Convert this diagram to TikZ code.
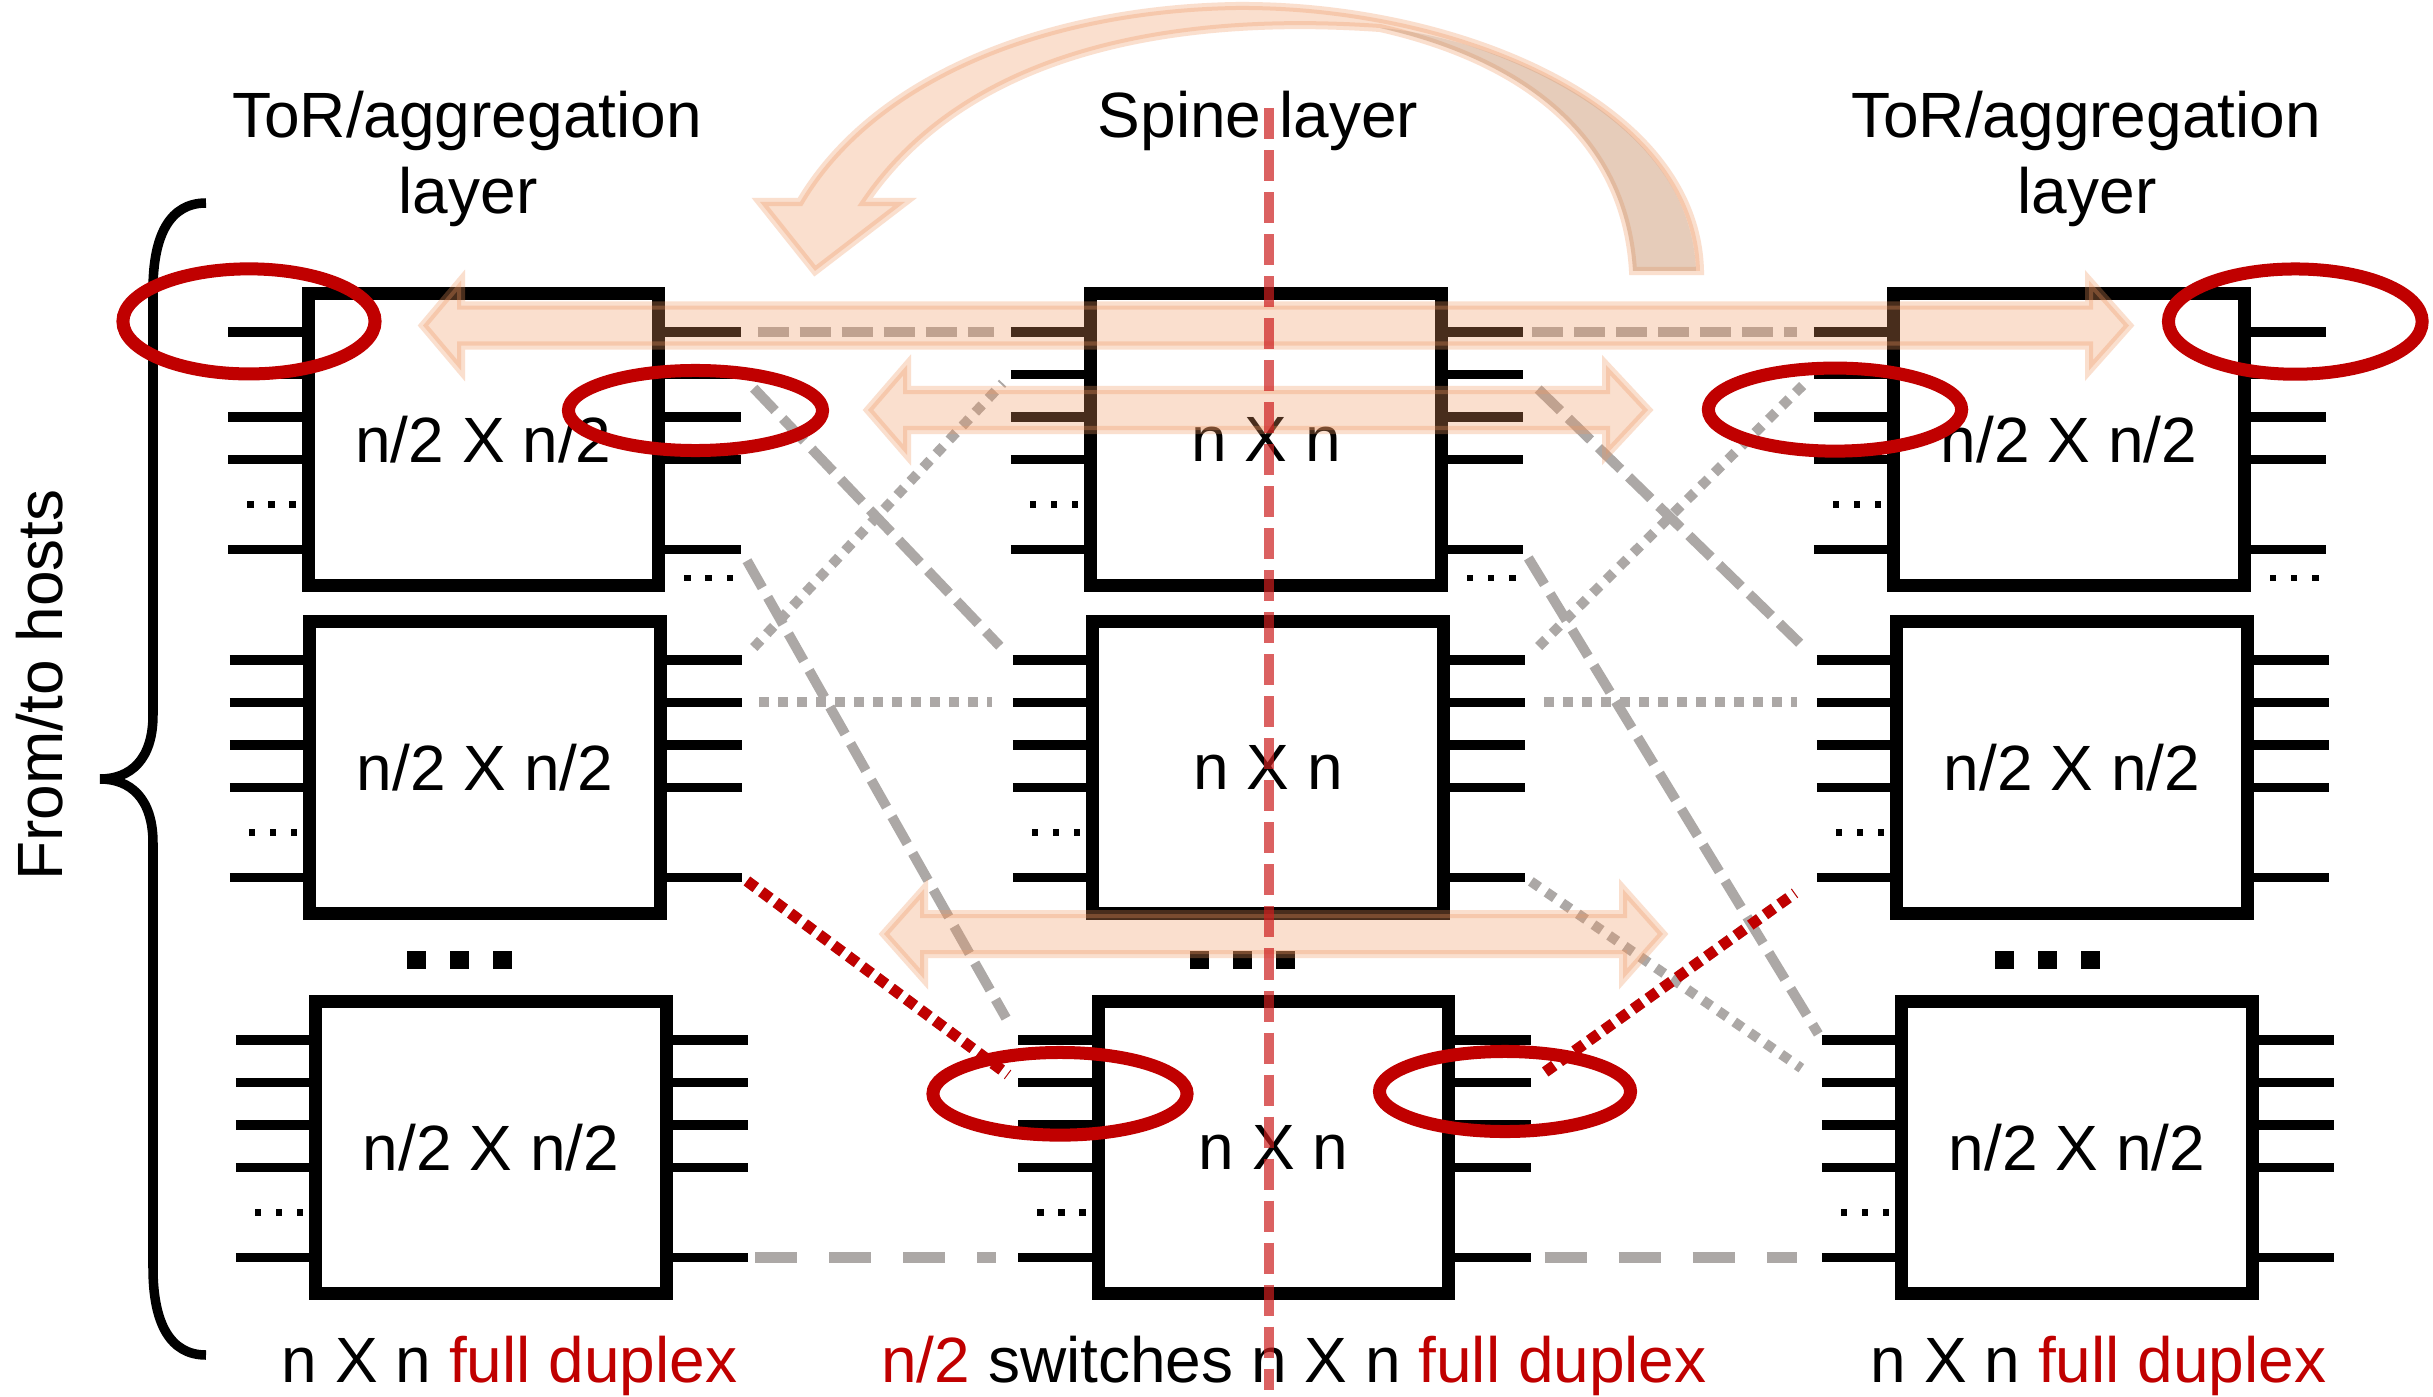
\documentclass[tikz,border=0pt]{standalone}
\usepackage{fontspec}
\setmainfont{Liberation Sans}
\usetikzlibrary{calc}
\definecolor{dred}{RGB}{192,0,0}
\definecolor{lgray}{RGB}{172,168,166}
\definecolor{peach}{RGB}{240,150,95}
\definecolor{peachdark}{RGB}{150,130,110}
\definecolor{vred}{RGB}{205,30,30}

\newcommand{\swbox}[5]{%
  \node[swbox] (#1) at (#2,#3) {#4};
  \foreach \k/\oy in {1/38,2/80.5,3/123,4/165.5,5/255.5}{%
    \coordinate (#1-L\k) at ($(#1.north west)+(-80,\oy)$);
    \coordinate (#1-R\k) at ($(#1.north east)+(82,\oy)$);
    \draw[port] (#1-L\k) -- ($(#1.north west)+(0,\oy)$);
    \draw[port] ($(#1.north east)+(0,\oy)$) -- (#1-R\k);
  }
  \foreach \dx in {-58,-37,-16}{\fill ($(#1.north west)+(\dx,210.5)+(-3.25,-3.25)$) rectangle +(6.5,6.5);}
  \ifnum#5=1 \foreach \dx in {29,50,71.5}{\fill ($(#1.north east)+(\dx,284)+(-3.25,-3.25)$) rectangle +(6.5,6.5);}\fi
}
\newcommand{\dblarrow}[5]{%
  \path[hl] (#1,#5) -- (#2,#5-45) -- (#2,#5-20) -- (#3,#5-20) -- (#3,#5-45) -- (#4,#5)
    -- (#3,#5+45) -- (#3,#5+20) -- (#2,#5+20) -- (#2,#5+45) -- cycle;
}

\begin{document}
\begin{tikzpicture}[x=0.01cm,y=-0.01cm,
  every node/.style={font=\fontsize{18.2pt}{22pt}\selectfont, inner sep=0pt, outer sep=0pt},
  swbox/.style={draw, line width=0.13cm, minimum width=3.5cm, minimum height=2.91cm, fill=white},
  port/.style={line width=0.095cm},
  dashlink/.style={lgray, line width=0.1cm, dash pattern=on 0.31cm off 0.11cm},
  longdash/.style={lgray, line width=0.11cm, dash pattern=on 0.42cm off 0.32cm},
  dotlink/.style={lgray, line width=0.1cm, dash pattern=on 0.1cm off 0.09cm},
  reddot/.style={dred, line width=0.11cm, dash pattern=on 0.11cm off 0.07cm},
  reddotshadow/.style={lgray, line width=0.11cm, dash pattern=on 0.11cm off 0.07cm, xshift=-0.02cm, yshift=-0.02cm},
  hl/.style={draw=peach, fill=peach, draw opacity=0.3, fill opacity=0.3, line width=0.08cm, line join=miter},
  ring/.style={draw=dred, line width=0.13cm},
]
\fill[white] (0,0) rectangle (2433,1397);
\useasboundingbox (0,0) rectangle (2433,1397);

% switches
\swbox{L1}{483.5}{439.5}{n/2 X n/2}{1}
\swbox{L2}{485}{767.5}{n/2 X n/2}{0}
\swbox{L3}{491}{1147.5}{n/2 X n/2}{0}
\swbox{M1}{1266}{439.5}{n X n}{1}
\swbox{M2}{1268}{767.5}{n X n}{0}
\swbox{M3}{1273.5}{1147.5}{n X n}{0}
\swbox{R1}{2069}{439.5}{n/2 X n/2}{1}
\swbox{R2}{2072}{767.5}{n/2 X n/2}{0}
\swbox{R3}{2077}{1147.5}{n/2 X n/2}{0}

% big ellipsis between rows
\foreach \cx in {459.5,1242,2047}{\foreach \d in {-43,0,43}{\fill (\cx+\d-9.5,951) rectangle +(19,18);}}

% links left -> middle
\draw[dashlink, shorten <=0.17cm, shorten >=0.17cm] (L1-R1) -- (M1-L1);
\draw[dashlink, shorten <=0.19cm, shorten >=0.19cm] (L1-R2) -- (M2-L1);
\draw[dashlink, shorten <=0.13cm, shorten >=0.25cm] (L1-R5) -- (M3-L1);
\draw[dotlink, shorten <=0.17cm, shorten >=0.12cm] (L2-R1) -- (M1-L2);
\draw[dotlink, shorten <=0.17cm, shorten >=0.21cm] (L2-R2) -- (M2-L2);
\draw[reddotshadow, shorten <=0.06cm, shorten >=0.13cm] (L2-R5) -- (M3-L2);
\draw[reddot, shorten <=0.06cm, shorten >=0.13cm] (L2-R5) -- (M3-L2);
\draw[longdash, shorten <=0.07cm, shorten >=0.22cm] (L3-R5) -- (M3-L5);
% links middle -> right
\draw[dashlink, shorten <=0.09cm, shorten >=0.17cm] (M1-R1) -- (R1-L1);
\draw[dashlink, shorten <=0.21cm, shorten >=0.24cm] (M1-R2) -- (R2-L1);
\draw[dashlink, shorten <=0.10cm, shorten >=0.07cm] (M1-R5) -- (R3-L1);
\draw[dotlink, shorten <=0.19cm, shorten >=0.14cm] (M2-R1) -- (R1-L2);
\draw[dotlink, shorten <=0.19cm, shorten >=0.20cm] (M2-R2) -- (R2-L2);
\draw[dotlink, shorten <=0.07cm, shorten >=0.25cm] (M2-R5) -- (R3-L2);
\draw[reddotshadow, shorten <=0.18cm, shorten >=0.27cm] (M3-R2) -- (R2-L5);
\draw[reddot, shorten <=0.18cm, shorten >=0.27cm] (M3-R2) -- (R2-L5);
\draw[longdash, shorten <=0.14cm, shorten >=0.25cm] (M3-R5) -- (R3-L5);

% translucent arrows
\dblarrow{423}{461}{2089}{2129}{325.5}
\dblarrow{868}{907}{1606}{1648}{410}
\dblarrow{884}{924}{1623}{1663}{934}

% curved arrow
\path[hl] (800,202) .. controls (875,75) and (1050,9) .. (1236,6)
  .. controls (1450,4) and (1696,100) .. (1700,271) -- (1633,271)
  .. controls (1624,122) and (1500,55) .. (1380,28)
  .. controls (1150,12) and (960,62) .. (865,202)
  -- (905,202) -- (815,271) -- (760,202) -- cycle;
\fill[peachdark, fill opacity=0.2] (1633,271) .. controls (1624,122) and (1500,55) .. (1380,28)
  .. controls (1480,35) and (1690,110) .. (1696,271) -- cycle;

% brace
\draw[line width=0.095cm] (206,203) .. controls (170,203) and (153,235) .. (153,290) -- (153,715)
  .. controls (153,760) and (130,779) .. (100,779)
  .. controls (130,779) and (153,798) .. (153,843) -- (153,1268)
  .. controls (153,1323) and (170,1355) .. (206,1355);

% texts
\node[anchor=base] (tl1) at (467,138) {ToR/aggregation};
\node[anchor=base] (tl2) at (468,214) {layer};
\node[anchor=base] (tm) at (1258,138) {Spine layer};
\node[anchor=base] (tr1) at (2086,138) {ToR/aggregation};
\node[anchor=base] (tr2) at (2087,214) {layer};
\node[anchor=base] (bl) at (509.5,1382) {n X n \textcolor{dred}{full duplex}};
\node[anchor=base] (bm) at (1294,1382) {\textcolor{dred}{n/2} switches n X n \textcolor{dred}{full duplex}};
\node[anchor=base] (br) at (2098.5,1382) {n X n \textcolor{dred}{full duplex}};
\node[anchor=base, rotate=90] (hosts) at (62,685) {From/to hosts};

% red ellipses
\draw[ring] (249,321.4) ellipse [x radius=1.26cm, y radius=0.525cm];
\draw[ring] (695.5,410.5) ellipse [x radius=1.27cm, y radius=0.40cm];
\draw[ring] (1835,409.6) ellipse [x radius=1.266cm, y radius=0.415cm];
\draw[ring] (2295.3,321.6) ellipse [x radius=1.268cm, y radius=0.526cm];
\draw[ring] (1060,1093.8) ellipse [x radius=1.27cm, y radius=0.413cm];
\draw[ring] (1505,1091.5) ellipse [x radius=1.255cm, y radius=0.40cm];

% spine axis
\coordinate (axtop) at (1269,108);
\coordinate (axbot) at (1269,1390);
\draw[vred, draw opacity=0.7, line width=0.095cm, dash pattern=on 0.31cm off 0.11cm] (axtop) -- (axbot);
\end{tikzpicture}
\end{document}
